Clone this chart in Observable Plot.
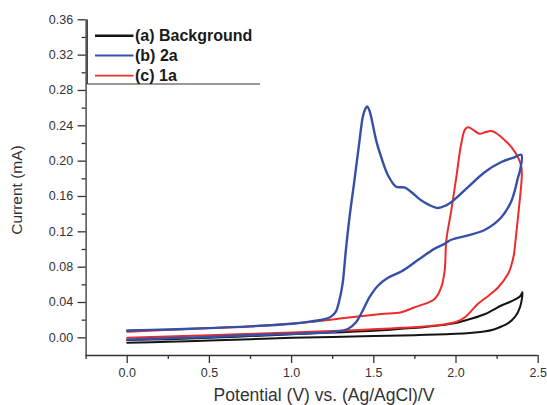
<!DOCTYPE html>
<html><head><meta charset="utf-8">
<script src="https://cdn.jsdelivr.net/npm/d3@7"></script>
<script src="https://cdn.jsdelivr.net/npm/@observablehq/plot@0.6"></script>
<style>
body{margin:0;background:#fff}
#chart{position:relative;width:547px;height:405px;overflow:hidden}
</style>
</head><body><div id="chart"></div>
<script>
const seriesNames = ["(a) Background", "(b) 2a", "(c) 1a"];
const seriesColors = ["#141414", "#3550a5", "#ee2b2b"];

const bgPotential = [0, 0.25, 0.5, 0.75, 1.0, 1.25, 1.5, 1.75, 2.0, 2.1, 2.17, 2.23, 2.276, 2.32, 2.36, 2.39, 2.404, 2.39, 2.36, 2.32, 2.276, 2.22, 2.17, 2.07, 1.97, 1.8, 1.667, 1.5, 1.25, 1.0, 0.75, 0.5, 0.25, 0];
const bgCurrent   = [-0.0055, -0.0045, -0.003, -0.0015, 0.000, 0.001, 0.002, 0.003, 0.0045, 0.0058, 0.0071, 0.0095, 0.0128, 0.017, 0.024, 0.035, 0.0516, 0.047, 0.0435, 0.040, 0.0366, 0.031, 0.0264, 0.0204, 0.0158, 0.012, 0.0102, 0.008, 0.006, 0.004, 0.002, 0.000, -0.0015, -0.0025];

const bPotential = [0, 0.25, 0.5, 0.75, 1.0, 1.1, 1.2, 1.24, 1.27, 1.29, 1.31, 1.33, 1.352, 1.382, 1.413, 1.433, 1.448, 1.46, 1.472, 1.484, 1.515, 1.545, 1.586, 1.636, 1.667, 1.69, 1.728, 1.778, 1.83, 1.89, 1.94, 1.971, 2.073, 2.174, 2.276, 2.35, 2.398, 2.39, 2.378, 2.337, 2.276, 2.174, 2.073, 1.971, 1.931, 1.87, 1.768, 1.667, 1.586, 1.525, 1.474, 1.433, 1.393, 1.342, 1.241, 1.0, 0.75, 0.5, 0.25, 0];
const bCurrent   = [0.0083, 0.0095, 0.011, 0.013, 0.016, 0.018, 0.021, 0.024, 0.030, 0.042, 0.061, 0.099, 0.136, 0.178, 0.223, 0.250, 0.259, 0.262, 0.258, 0.250, 0.223, 0.2045, 0.184, 0.171, 0.1705, 0.170, 0.165, 0.157, 0.151, 0.147, 0.150, 0.1535, 0.1705, 0.1875, 0.199, 0.204, 0.207, 0.190, 0.182, 0.155, 0.1365, 0.122, 0.116, 0.111, 0.1064, 0.101, 0.088, 0.075, 0.068, 0.059, 0.046, 0.031, 0.018, 0.010, 0.0065, 0.0045, 0.003, 0.001, -0.0005, -0.002];

const cPotential = [0, 0.5, 1.0, 1.363, 1.545, 1.667, 1.748, 1.788, 1.87, 1.91, 1.931, 1.941, 1.971, 2.002, 2.032, 2.055, 2.073, 2.1, 2.144, 2.18, 2.215, 2.25, 2.3, 2.337, 2.378, 2.398, 2.40, 2.39, 2.375, 2.362, 2.352, 2.335, 2.317, 2.256, 2.2, 2.134, 2.052, 2.0, 1.87, 1.667, 1.342, 1.0, 0.5, 0];
const cCurrent   = [0.007, 0.011, 0.016, 0.0233, 0.027, 0.029, 0.0346, 0.037, 0.044, 0.057, 0.076, 0.110, 0.144, 0.182, 0.220, 0.236, 0.2384, 0.236, 0.231, 0.233, 0.234, 0.231, 0.223, 0.216, 0.204, 0.193, 0.182, 0.160, 0.133, 0.110, 0.094, 0.081, 0.0725, 0.057, 0.048, 0.0385, 0.023, 0.018, 0.014, 0.0113, 0.0083, 0.006, 0.003, 0.000];

const xTicks = [0, 0.5, 1.0, 1.5, 2.0, 2.5];
const xMinorTicks = [-0.25, 0.25, 0.75, 1.25, 1.75, 2.25];
const yTicks = [0, 0.04, 0.08, 0.12, 0.16, 0.20, 0.24, 0.28, 0.32, 0.36];
const yMinorTicks = [0.02, 0.06, 0.10, 0.14, 0.18, 0.22, 0.26, 0.30, 0.34];
const xTitle = "Potential (V) vs. (Ag/AgCl)/V";
const yTitle = "Current (mA)";

const potentials = [bgPotential, bPotential, cPotential];
const currents = [bgCurrent, bCurrent, cCurrent];
const rows = [];
seriesNames.forEach((name, k) => {
  potentials[k].forEach((v, i) => rows.push({series: name, potential: v, current: currents[k][i]}));
});
const widths = {"(a) Background": 2, "(b) 2a": 2.4, "(c) 1a": 2};
const drawOrder = ["(a) Background", "(c) 1a", "(b) 2a"];

const axisColor = "#333";
const plot = Plot.plot({
  width: 547, height: 405,
  marginLeft: 85.6, marginRight: 9.3, marginTop: 19.3, marginBottom: 50,
  x: {domain: [-0.25, 2.5]},
  y: {domain: [-0.02, 0.36]},
  color: {domain: seriesNames, range: seriesColors},
  style: {fontFamily: "'Liberation Sans', Arial, sans-serif", fontSize: "12.5px", color: axisColor, background: "#fff"},
  marks: [
    ...drawOrder.map(name => Plot.line(rows.filter(d => d.series === name), {
      x: "potential", y: "current", stroke: "series", strokeWidth: widths[name], curve: "catmull-rom"
    })),
    Plot.ruleX([-0.25], {stroke: axisColor, strokeWidth: 1.3}),
    Plot.ruleY([-0.02], {stroke: axisColor, strokeWidth: 1.3}),
    Plot.axisX(xTicks, {tickSize: 8, tickPadding: 5, tickFormat: d3.format(".1f"), label: null, stroke: axisColor, strokeWidth: 1.3}),
    Plot.axisX(xMinorTicks, {tickSize: 4, tickFormat: () => "", label: null, stroke: axisColor, strokeWidth: 1.3}),
    Plot.axisY(yTicks, {tickSize: 8, tickPadding: 5, tickFormat: d3.format(".2f"), label: null, stroke: axisColor, strokeWidth: 1.3}),
    Plot.axisY(yMinorTicks, {tickSize: 4, tickFormat: () => "", label: null, stroke: axisColor, strokeWidth: 1.3})
  ]
});
document.getElementById("chart").appendChild(plot);

const svg = d3.select(plot);
svg.append("text").attr("x", 324).attr("y", 401).attr("text-anchor", "middle")
  .style("font-size", "17.5px").attr("fill", axisColor).text(xTitle);
svg.append("text").attr("transform", "translate(22,190) rotate(-90)").attr("text-anchor", "middle")
  .style("font-size", "15.5px").attr("fill", axisColor).text(yTitle);

const lg = svg.append("g");
lg.append("line").attr("x1", 87.3).attr("x2", 87.3).attr("y1", 19.5).attr("y2", 84).attr("stroke", axisColor).attr("stroke-width", 1.2);
lg.append("line").attr("x1", 87.3).attr("x2", 260).attr("y1", 84).attr("y2", 84).attr("stroke", axisColor).attr("stroke-width", 1.2);
const legendY = [35.7, 55.5, 75.7];
seriesNames.forEach((name, k) => {
  lg.append("line").attr("x1", 95).attr("x2", 133.5).attr("y1", legendY[k]).attr("y2", legendY[k])
    .attr("stroke", seriesColors[k]).attr("stroke-width", k === 0 ? 2.6 : 1.8);
  lg.append("text").attr("x", 135).attr("y", legendY[k] + 5.5).attr("text-anchor", "start")
    .style("font-size", "16px").style("font-weight", "bold")
    .attr("fill", "#1a1a1a").text(name);
});
</script>
</body></html>
